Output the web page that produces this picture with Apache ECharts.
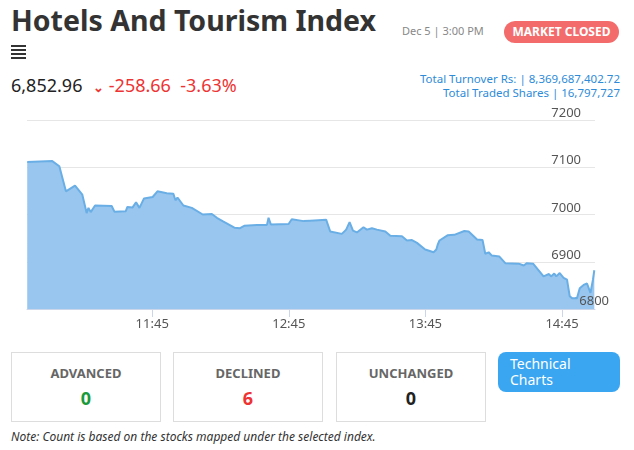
<!DOCTYPE html>
<html><head><meta charset="utf-8">
<script src="https://cdn.jsdelivr.net/npm/echarts@6/dist/echarts.min.js"></script>
<style>
body{margin:0;width:634px;height:450px;font-family:"Noto Sans","Open Sans",sans-serif;background:#fff;position:relative;overflow:hidden}
.a{position:absolute;white-space:nowrap}
.hb{position:absolute;left:11px;width:15px;height:2px;background:#333}
.box{position:absolute;top:352px;width:148px;height:68px;border:1px solid #ddd;text-align:center}
.box .t{font-size:13px;font-weight:bold;color:#666;margin-top:11px}
.box .v{font-size:18px;font-weight:bold;margin-top:4px}
</style></head><body>
<div class="a" style="left:11px;top:1px;font-size:28.5px;font-weight:bold;color:#333">Hotels And Tourism Index</div>
<div class="hb" style="top:45px"></div><div class="hb" style="top:49px"></div><div class="hb" style="top:53px"></div><div class="hb" style="top:57px"></div>
<div class="a" style="left:402px;top:23px;font-size:11px;color:#888">Dec 5 | 3:00 PM</div>
<div class="a" style="left:504px;top:21px;width:115px;height:22px;border-radius:11px;background:#f36b6b;color:#fff;font-size:12px;font-weight:bold;text-align:center;line-height:22px">MARKET CLOSED</div>
<div class="a" style="left:11px;top:73px;font-size:18px;color:#222">6,852.96 <span style="color:#e33;font-size:13px;margin-left:6px;font-weight:bold">&#8964;</span><span style="color:#e33"> -258.66 &nbsp;-3.63%</span></div>
<div class="a" style="right:14px;top:72px;font-size:11.5px;color:#2e8bd8;text-align:right;line-height:14px">Total Turnover Rs: | 8,369,687,402.72<br>Total Traded Shares | 16,797,727</div>
<div id="c" class="a" style="left:0;top:0;width:634px;height:340px"></div>
<div class="box" style="left:11px"><div class="t">ADVANCED</div><div class="v" style="color:#1a9a3a">0</div></div>
<div class="box" style="left:173px"><div class="t">DECLINED</div><div class="v" style="color:#e33">6</div></div>
<div class="box" style="left:336px"><div class="t">UNCHANGED</div><div class="v" style="color:#222">0</div></div>
<div class="a" style="left:498px;top:352px;width:122px;height:40px;border-radius:8px;background:#3aa6f2;color:#fff;font-size:14px;line-height:16px;padding:4px 0 0 12px;box-sizing:border-box">Technical<br>Charts</div>
<div class="a" style="left:11px;top:428px;font-size:12px;font-style:italic;color:#333">Note: Count is based on the stocks mapped under the selected index.</div>
<script>
// minutes after 10:50
const minutes=[0.1,11.1,14.2,17.1,21.1,24.3,26.2,27,28,29.9,37.2,38.4,43.4,44.1,46.4,47.9,49.4,51.4,55.2,57.3,61.4,64.3,65.2,66.1,68.7,72.4,77.2,81.2,83.4,86.3,91.1,93.6,95.4,101,105.4,106.1,107.1,114.9,116.3,121.5,124.4,
131.4,133.2,138.3,140.2,141.7,143.2,144.9,147.8,149.3,151.5,153.7,157.4,159.6,164.7,166.9,169.1,171.3,174.9,178.6,179.8,180.4,181.2,184.7,187.7,192.1,194,197.7,200.1,201.3,202.8,204.2,207.5,210.1,216,218.2,219.6,222.3,226.9,229.3,230.2,231.6,232.5,234,235.7,237.2,238.4,239.4,241.6,242.8,244.5,246,247.5,248.6,249.2];
const values=[7111,7113,7102,7049,7061,7042,7003,7014,7005,7019,7018,7006,7007,7016,7015,7026,7014,7034,7037,7049,7045,7044,7030,7036,7019,7014,7000,7001,6993,6985,6972,6971,6976,6978,6978,6993,6979,6980,6990,6986,6987,
6989,6964,6959,6968,6984,6966,6962,6973,6968,6971,6968,6964,6955,6954,6945,6946,6940,6926,6920,6926,6936,6945,6956,6957,6965,6964,6947,6946,6917,6920,6913,6911,6897,6896,6892,6897,6896,6869,6874,6869,6875,6869,6876,6866,6862,6827,6823,6823,6844,6851,6854,6834,6862,6882];
const tickMinutes=[55,115,175,235];
const tickLabels=['11:45','12:45','13:45','14:45'];
const yTicks=[6800,6900,7000,7100,7200];
const ch=echarts.init(document.getElementById('c'));
ch.setOption({animation:false,
grid:{left:27,right:39,top:120,bottom:31},
xAxis:{type:'value',min:0,max:249.5,
 axisLine:{lineStyle:{color:'#ccd6eb'}},
 axisTick:{customValues:tickMinutes,length:8,lineStyle:{color:'#ccd6eb'}},
 axisLabel:{customValues:tickMinutes,formatter:v=>tickLabels[tickMinutes.indexOf(v)],color:'#555',fontSize:13,margin:9,fontFamily:'Noto Sans'},
 splitLine:{show:false}},
yAxis:{type:'value',position:'right',min:yTicks[0],max:yTicks[4],interval:100,
 axisLabel:{formatter:v=>String(v),showMinLabel:true,hideOverlap:false,align:'right',margin:-14,verticalAlign:'bottom',color:'#555',fontSize:13,fontFamily:'Noto Sans'},
 splitLine:{lineStyle:{color:'#e6e6e6'}},axisLine:{show:false},axisTick:{show:false}},
series:[{type:'line',data:minutes.map((m,i)=>[m,values[i]]),showSymbol:false,
 lineStyle:{color:'#6aaee6',width:2},areaStyle:{color:'#99c6ee',opacity:1,origin:'start'}}]});
const p=ch.convertToPixel({gridIndex:0},[249.5,yTicks[0]]);
ch.setOption({graphic:[{type:'text',z:100,zlevel:1,x:p[0]+14,y:p[1]-1,style:{text:String(yTicks[0]),align:'right',verticalAlign:'bottom',fill:'#555',fontSize:13,fontFamily:'Noto Sans'}}]});
</script></body></html>
